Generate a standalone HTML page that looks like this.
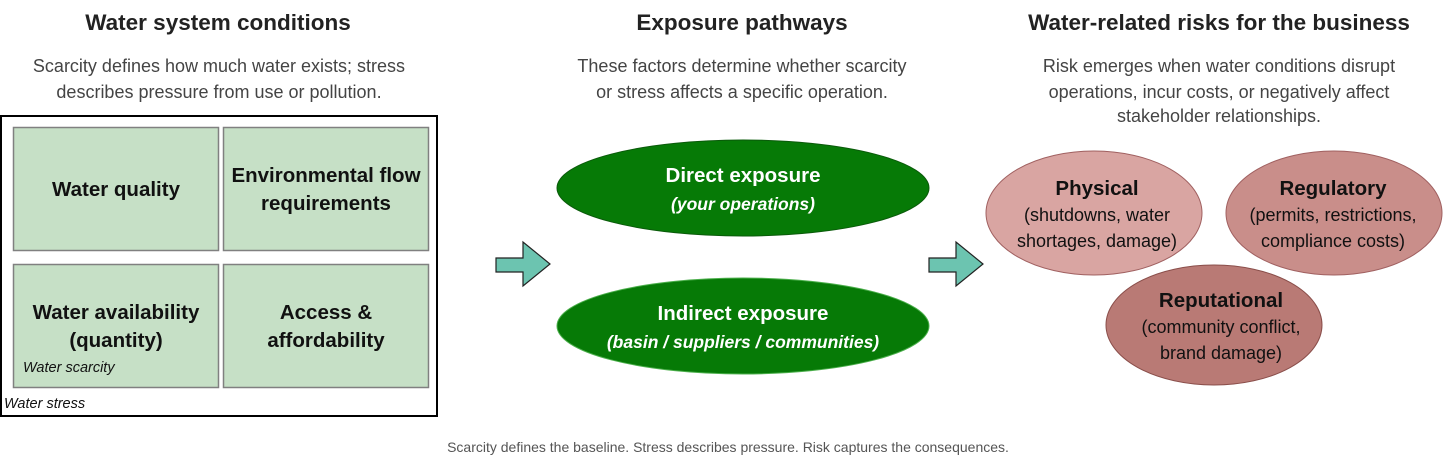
<!DOCTYPE html>
<html><head><meta charset="utf-8"><style>
html,body{margin:0;padding:0;background:#fff;}
svg{display:block;font-family:"Liberation Sans",Arial,sans-serif;}
</style></head><body>
<svg width="1456" height="470" viewBox="0 0 1456 470" xmlns="http://www.w3.org/2000/svg">
<g font-weight="bold" font-size="22.5" fill="#222" text-anchor="middle">
<text x="218" y="30">Water system conditions</text>
<text x="742" y="30">Exposure pathways</text>
<text x="1219" y="30">Water-related risks for the business</text>
</g>
<g font-size="18" fill="#444" text-anchor="middle">
<text x="219" y="72">Scarcity defines how much water exists; stress</text>
<text x="219" y="98">describes pressure from use or pollution.</text>
<text x="742" y="72">These factors determine whether scarcity</text>
<text x="742" y="98">or stress affects a specific operation.</text>
<text x="1219" y="72">Risk emerges when water conditions disrupt</text>
<text x="1219" y="98">operations, incur costs, or negatively affect</text>
<text x="1219" y="122">stakeholder relationships.</text>
</g>
<rect x="1" y="116" width="436" height="300" fill="#fff" stroke="#000" stroke-width="2"/>
<g fill="#c6e0c6" stroke="#808080" stroke-width="1.5">
<rect x="13.5" y="127.5" width="205" height="123"/>
<rect x="223.5" y="127.5" width="205" height="123"/>
<rect x="13.5" y="264.5" width="205" height="123"/>
<rect x="223.5" y="264.5" width="205" height="123"/>
</g>
<g font-weight="bold" font-size="20.5" fill="#111" text-anchor="middle">
<text x="116" y="196">Water quality</text>
<text x="326" y="182">Environmental flow</text>
<text x="326" y="210">requirements</text>
<text x="116" y="319">Water availability</text>
<text x="116" y="347">(quantity)</text>
<text x="326" y="319">Access &amp;</text>
<text x="326" y="347">affordability</text>
</g>
<g font-style="italic" font-size="14.5" fill="#111">
<text x="23" y="372">Water scarcity</text>
<text x="4" y="408">Water stress</text>
</g>
<g fill="#6cc4b0" stroke="#222" stroke-width="1.2">
<polygon points="496,258 523,258 523,242 550,264 523,286 523,272 496,272"/>
<polygon points="929,258 956,258 956,242 983,264 956,286 956,272 929,272"/>
</g>
<ellipse cx="743" cy="188" rx="186" ry="48" fill="#067a06" stroke="#0a5a0a"/>
<ellipse cx="743" cy="326" rx="186" ry="48" fill="#067a06" stroke="#4caf4c"/>
<g fill="#fff" text-anchor="middle">
<text x="743" y="182" font-weight="bold" font-size="20.5">Direct exposure</text>
<text x="743" y="210" font-weight="bold" font-style="italic" font-size="17.5">(your operations)</text>
<text x="743" y="320" font-weight="bold" font-size="20.5">Indirect exposure</text>
<text x="743" y="348" font-weight="bold" font-style="italic" font-size="17.5">(basin / suppliers / communities)</text>
</g>
<ellipse cx="1094" cy="213" rx="108" ry="62" fill="#d9a5a2" stroke="#a06060"/>
<ellipse cx="1334" cy="213" rx="108" ry="62" fill="#c98e8a" stroke="#a06060"/>
<ellipse cx="1214" cy="325" rx="108" ry="60" fill="#b97a75" stroke="#8a4e4a"/>
<g fill="#111" text-anchor="middle" font-size="18">
<text x="1097" y="195" font-weight="bold" font-size="20.5">Physical</text>
<text x="1097" y="221">(shutdowns, water</text>
<text x="1097" y="247">shortages, damage)</text>
<text x="1333" y="195" font-weight="bold" font-size="20.5">Regulatory</text>
<text x="1333" y="221">(permits, restrictions,</text>
<text x="1333" y="247">compliance costs)</text>
<text x="1221" y="307" font-weight="bold" font-size="20.5">Reputational</text>
<text x="1221" y="333">(community conflict,</text>
<text x="1221" y="359">brand damage)</text>
</g>
<text x="728" y="452" text-anchor="middle" font-size="14" fill="#555">Scarcity defines the baseline. Stress describes pressure. Risk captures the consequences.</text>
</svg>
</body></html>
